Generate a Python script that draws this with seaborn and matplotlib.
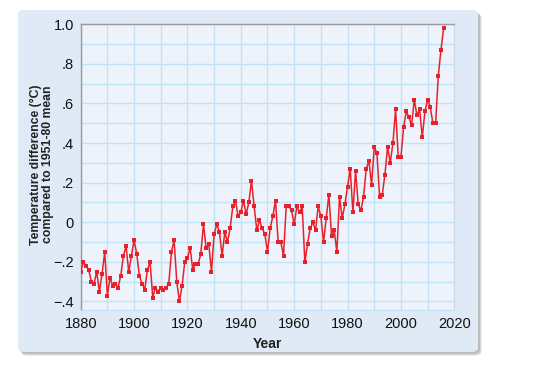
import numpy as np
import pandas as pd
import matplotlib
matplotlib.use("Agg")
import matplotlib.pyplot as plt
from matplotlib.patches import FancyBboxPatch
from matplotlib.ticker import MultipleLocator
import seaborn as sns

# Annual temperature difference (deg C) vs 1951-80 mean
years = list(range(1880, 2017))
temp_diff = [
    -0.25, -0.20, -0.22, -0.24, -0.30, -0.31, -0.25, -0.35, -0.26, -0.15,  # 1880s
    -0.37, -0.28, -0.32, -0.31, -0.33, -0.27, -0.17, -0.12, -0.25, -0.17,  # 1890s
    -0.09, -0.16, -0.27, -0.31, -0.34, -0.24, -0.20, -0.38, -0.33, -0.35,  # 1900s
    -0.33, -0.34, -0.33, -0.31, -0.15, -0.09, -0.30, -0.40, -0.32, -0.20,  # 1910s
    -0.18, -0.13, -0.24, -0.21, -0.21, -0.16, -0.01, -0.13, -0.11, -0.25,  # 1920s
    -0.06, -0.01, -0.05, -0.17, -0.05, -0.10, -0.03, 0.08, 0.11, 0.03,     # 1930s
    0.05, 0.11, 0.04, 0.10, 0.21, 0.08, -0.04, 0.01, -0.03, -0.06,         # 1940s
    -0.15, -0.03, 0.03, 0.11, -0.10, -0.10, -0.17, 0.08, 0.08, 0.06,       # 1950s
    -0.01, 0.08, 0.05, 0.08, -0.20, -0.11, -0.03, 0.00, -0.04, 0.08,       # 1960s
    0.03, -0.10, 0.02, 0.14, -0.07, -0.04, -0.15, 0.13, 0.02, 0.09,        # 1970s
    0.18, 0.27, 0.05, 0.26, 0.09, 0.06, 0.13, 0.27, 0.31, 0.19,            # 1980s
    0.38, 0.35, 0.13, 0.14, 0.24, 0.38, 0.30, 0.40, 0.57, 0.33,            # 1990s
    0.33, 0.48, 0.56, 0.53, 0.49, 0.62, 0.54, 0.57, 0.43, 0.56,            # 2000s
    0.62, 0.58, 0.50, 0.50, 0.74, 0.87, 0.98,                              # 2010s
]

x_ticks = [1880, 1900, 1920, 1940, 1960, 1980, 2000, 2020]
y_ticks = [-0.4, -0.2, 0, 0.2, 0.4, 0.6, 0.8, 1.0]
y_tick_labels = ["\u2212.4", "\u2212.2", "0", ".2", ".4", ".6", ".8", "1.0"]

df = pd.DataFrame({"Year": years, "Temp": temp_diff})

sns.set_style("white")
plt.rcParams["font.family"] = ["Liberation Sans", "DejaVu Sans"]

W, H = 535, 374
fig = plt.figure(figsize=(W / 100, H / 100), dpi=100)

# light blue panel with a soft shadow
def px_box(x0, y0, x1, y1):
    return x0 / W, 1 - y1 / H, (x1 - x0) / W, (y1 - y0) / H

for off, a in [(4, 0.10), (3, 0.15), (2, 0.2)]:
    bx, by, bw, bh = px_box(18 + off, 10 + off, 478 + off, 352 + off)
    fig.patches.append(FancyBboxPatch((bx, by), bw, bh, boxstyle="round,pad=0,rounding_size=0.012",
                                      transform=fig.transFigure, facecolor="#555555", edgecolor="none",
                                      alpha=a, zorder=-3))
bx, by, bw, bh = px_box(18, 10, 478, 352)
fig.patches.append(FancyBboxPatch((bx, by), bw, bh, boxstyle="round,pad=0,rounding_size=0.012",
                                  transform=fig.transFigure, facecolor="#dfeaf6", edgecolor="none",
                                  zorder=-2))

ax = fig.add_axes([80.7 / W, 1 - 310 / H, (454.3 - 80.7) / W, (310 - 24.3) / H])
ax.set_facecolor("#eef2fa")

sns.lineplot(data=df, x="Year", y="Temp", ax=ax, color="#e8202c", linewidth=1.1,
             marker="s", markersize=3, markeredgewidth=0, zorder=3)

ax.set_xlim(1880, 2020)
ax.set_ylim(-0.443, 1.0)
ax.set_xticks(x_ticks)
ax.set_yticks(y_ticks)
ax.set_yticklabels(y_tick_labels)
ax.xaxis.set_minor_locator(MultipleLocator(10))
ax.yaxis.set_minor_locator(MultipleLocator(0.1))
ax.grid(True, which="both", color="#bde3f5", linewidth=1.0, zorder=0)
ax.set_axisbelow(True)
ax.tick_params(which="both", length=0, labelsize=10.5, colors="#111111")
ax.tick_params(axis="x", pad=5)
ax.tick_params(axis="y", pad=5)

for side in ["left", "top"]:
    ax.spines[side].set_color("#9a9a9a")
    ax.spines[side].set_linewidth(1.0)
ax.spines["right"].set_color("#c9d9ea")
ax.spines["bottom"].set_color("#bde3f5")

ax.set_xlabel("Year", fontsize=10, fontweight="bold", color="#222222", labelpad=4)
ax.set_ylabel("Temperature difference (\u00b0C)\ncompared to 1951-80 mean", fontsize=8.8,
              fontweight="bold", color="#222222", linespacing=1.0)
ax.yaxis.set_label_coords(-0.071, 0.51)

fig.savefig("out.png", dpi=100)
